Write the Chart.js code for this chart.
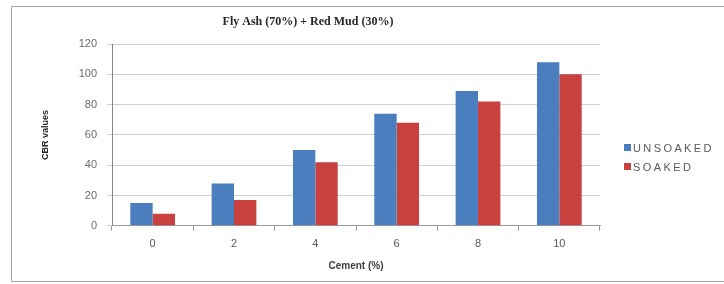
<!DOCTYPE html>
<html>
<head>
<meta charset="utf-8">
<script src="https://cdn.jsdelivr.net/npm/chart.js@4/dist/chart.umd.min.js"></script>
<style>
  body { margin: 0; background: #fff; }
  #wrap { position: relative; width: 724px; height: 284px; }
  #frame { position: absolute; left: 11px; top: 6px; width: 720px; height: 276px; border: 1px solid #a6a6a6; box-sizing: border-box; }
  canvas { position: absolute; left: 0; top: 0; }
  #legend { position: absolute; left: 624px; top: 141px; font: 11px "Liberation Sans", Arial, sans-serif; color: #595959; letter-spacing: 2.4px; }
  #legend div { height: 19px; line-height: 14px; white-space: nowrap; }
  #legend span { display: inline-block; width: 7px; height: 7px; margin-right: 2px; vertical-align: 1px; }
</style>
</head>
<body>
<div id="wrap">
  <div id="frame"></div>
  <canvas id="barChart" width="724" height="284"></canvas>
  <div id="legend"></div>
</div>
<script>
const categories = ["0", "2", "4", "6", "8", "10"];
const seriesNames = ["UNSOAKED", "SOAKED"];
const unsoaked = [15, 28, 50, 74, 89, 108];
const soaked = [8, 17, 42, 68, 82, 100];
const yTicks = [0, 20, 40, 60, 80, 100, 120];

const colors = ["#4a7ebf", "#c8413f"];

// legend drawn as html so it can sit off-centre like the original
const legend = document.getElementById("legend");
seriesNames.forEach((name, i) => {
    const row = document.createElement("div");
    row.innerHTML = '<span style="background:' + colors[i] + '"></span>' + name;
    legend.appendChild(row);
});

// title sits left of the plot centre in the reference
const titlePlugin = {
    id: "sideTitle",
    afterDraw(chart) {
        const ctx = chart.ctx;
        ctx.save();
        ctx.font = "bold 12px 'Liberation Serif', 'Times New Roman', serif";
        ctx.fillStyle = "#262626";
        ctx.textAlign = "center";
        ctx.textBaseline = "middle";
        ctx.fillText("Fly Ash (70%) + Red Mud (30%)", 308, 22);
        ctx.restore();
    }
};

const ctx = document.getElementById("barChart");
new Chart(ctx, {
    type: "bar",
    data: {
        labels: categories,
        datasets: [
            { label: seriesNames[0], data: unsoaked, backgroundColor: colors[0], barPercentage: 1, categoryPercentage: 0.55 },
            { label: seriesNames[1], data: soaked, backgroundColor: colors[1], barPercentage: 1, categoryPercentage: 0.55 }
        ]
    },
    options: {
        responsive: false,
        animation: false,
        layout: {
            padding: { left: 36, right: 124, top: 44, bottom: 8 }
        },
        scales: {
            x: {
                grid: { display: true, drawOnChartArea: false, tickLength: 5, color: "#9a9a9a" },
                border: { color: "#9a9a9a" },
                ticks: { padding: 7, color: "#595959", font: { family: "Liberation Sans", size: 11 } },
                title: {
                    display: true,
                    text: "Cement (%)",
                    color: "#404040",
                    padding: { top: 2, bottom: 4 },
                    font: { family: "Liberation Sans", size: 10, weight: "bold" }
                }
            },
            y: {
                min: 0,
                max: 120,
                afterFit: function(scale) { scale.width = 76; },
                afterBuildTicks: function(scale) { scale.ticks = yTicks.map(v => ({ value: v })); },
                grid: { color: "#d0d0d0", tickLength: 5 },
                border: { color: "#868686" },
                ticks: { padding: 10, color: "#6a6a6a", font: { family: "Liberation Sans", size: 11 } },
                title: {
                    display: true,
                    text: "CBR values",
                    color: "#262626",
                    padding: 4,
                    font: { family: "Liberation Sans", size: 9, weight: "bold" }
                }
            }
        },
        plugins: {
            legend: { display: false },
            tooltip: { enabled: false }
        }
    },
    plugins: [titlePlugin]
});
</script>
</body>
</html>
